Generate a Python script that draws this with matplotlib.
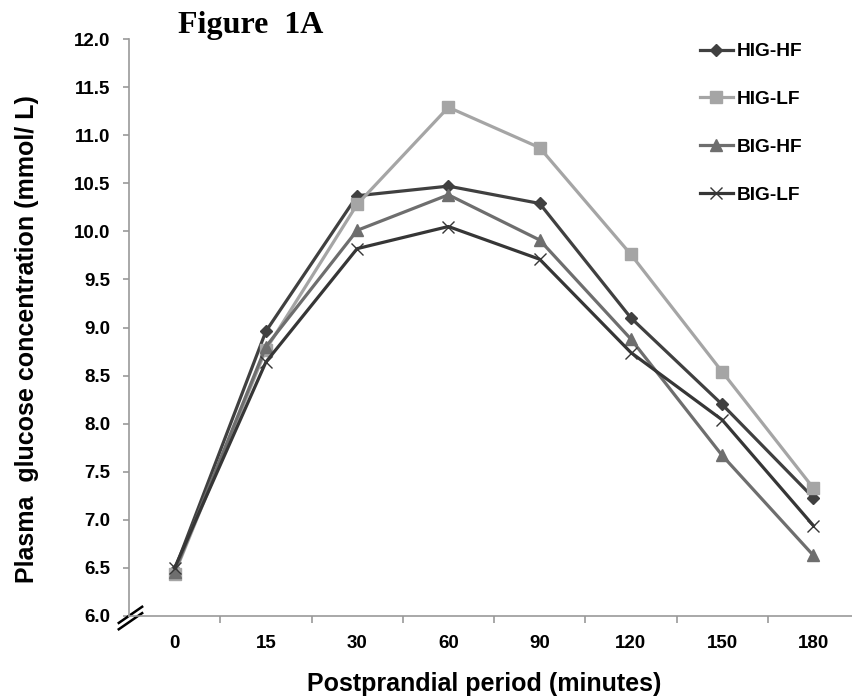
import numpy as np
import matplotlib
matplotlib.use('Agg')
import matplotlib.pyplot as plt
from matplotlib.lines import Line2D

plt.rcParams['font.family'] = ['Liberation Sans', 'DejaVu Sans']
plt.rcParams['font.weight'] = 'bold'

# postprandial glucose, mmol/L
times = ['0', '15', '30', '60', '90', '120', '150', '180']
hig_hf = [6.48, 8.96, 10.37, 10.47, 10.29, 9.10, 8.20, 7.23]
hig_lf = [6.44, 8.77, 10.28, 11.29, 10.87, 9.76, 8.54, 7.33]
big_hf = [6.46, 8.80, 10.01, 10.38, 9.91, 8.88, 7.67, 6.63]
big_lf = [6.50, 8.64, 9.82, 10.05, 9.71, 8.74, 8.04, 6.94]

series = [
  ('HIG-HF', hig_hf, '#404040', 'D', 6.5),
  ('HIG-LF', hig_lf, '#a5a5a5', 's', 8),
  ('BIG-HF', big_hf, '#6e6e6e', '^', 8),
  ('BIG-LF', big_lf, '#363636', 'x', 8),
]

fig = plt.figure(figsize=(8.52, 7.0), dpi=100)
ax = fig.add_axes([129/852, 1-616/700, 730/852, 577/700])

xs = np.arange(len(times))
handles = []
for name, vals, col, mk, ms in series:
  ln, = ax.plot(xs, vals, '-', color=col, lw=2.3, marker=mk, markersize=ms,
                markerfacecolor=col, markeredgecolor=col, markeredgewidth=1.0,
                label=name, zorder=3)
  handles.append(ln)

ax.set_xlim(-0.5, 7.5)
ax.set_ylim(6.0, 12.0)
yt = np.arange(6.0, 12.01, 0.5)
ax.set_yticks(yt)
ax.set_yticklabels([f'{v:.1f}' for v in yt])
ax.set_xticks(xs)
ax.set_xticklabels(times)
ax.set_xticks(np.arange(0.5, 7.5, 1.0), minor=True)

for s in ['top', 'right']:
  ax.spines[s].set_visible(False)
for s in ['left', 'bottom']:
  ax.spines[s].set_color('#999999')
  ax.spines[s].set_linewidth(1.2)

ax.tick_params(axis='y', direction='out', length=4.5, width=1.2, color='#999999',
               labelsize=13.5, pad=9)
ax.tick_params(axis='x', which='major', length=0, labelsize=13.5, pad=14)
ax.tick_params(axis='x', which='minor', direction='out', length=5, width=1.2,
               color='#999999')

ax.set_ylabel('Plasma  glucose concentration (mmol/ L)', fontsize=18,
              fontweight='bold')
ax.yaxis.set_label_coords(-0.123, 0.48)
ax.set_xlabel('Postprandial period (minutes)', fontsize=18,
              fontweight='bold', labelpad=14)
ax.xaxis.label.set_x(0.487)

# axis break mark at the origin
for dy in (0.0, -0.011):
  ax.add_line(Line2D([-0.014, 0.018], [-0.012 + dy, 0.016 + dy],
                     transform=ax.transAxes, color='black', lw=1.8,
                     clip_on=False))

fig.text(178/852, 1-25/700, 'Figure  1A', fontsize=23, fontweight='bold',
         family=['Liberation Serif', 'DejaVu Serif'], va='center', ha='left')

fig.legend(handles=handles, loc='upper left',
           bbox_to_anchor=(700/852, 1-43/700), frameon=False,
           fontsize=13.8, handlelength=1.7, handletextpad=0.2,
           labelspacing=1.58, borderpad=0, borderaxespad=0)

fig.savefig('out.png', dpi=100)
